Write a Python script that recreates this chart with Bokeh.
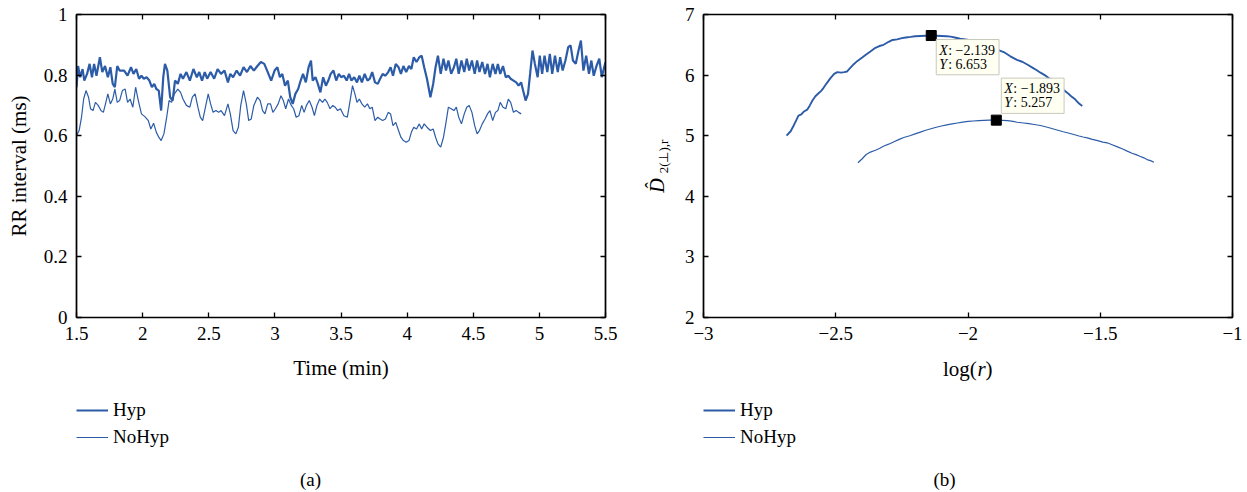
import math
from bokeh.plotting import figure
from bokeh.models import Range1d, LinearAxis, FixedTicker, Legend, LegendItem, Label
from bokeh.layouts import row, column
from bokeh.embed import file_html
from bokeh.resources import INLINE

# ---------------- data: panel (a) ----------------
time_hyp = [
    1.500, 1.512, 1.528, 1.546, 1.559, 1.580, 1.599, 1.617, 1.633, 1.651,
    1.677, 1.695, 1.716, 1.737, 1.756, 1.774, 1.790, 1.808, 1.826, 1.860,
    1.886, 1.912, 1.931, 1.952, 1.973, 1.991, 2.009, 2.030, 2.051, 2.070,
    2.088, 2.104, 2.122, 2.140, 2.156, 2.169, 2.187, 2.208, 2.227, 2.245,
    2.266, 2.287, 2.305, 2.331, 2.357, 2.384, 2.410, 2.428, 2.449, 2.470,
    2.488, 2.514, 2.541, 2.567, 2.593, 2.619, 2.645, 2.663, 2.684, 2.711,
    2.737, 2.763, 2.789, 2.815, 2.841, 2.868, 2.894, 2.920, 2.946, 2.972,
    2.998, 3.019, 3.038, 3.056, 3.077, 3.098, 3.116, 3.135, 3.155, 3.176,
    3.195, 3.213, 3.234, 3.255, 3.273, 3.286, 3.307, 3.325, 3.344, 3.365,
    3.386, 3.404, 3.422, 3.443, 3.464, 3.483, 3.501, 3.522, 3.543, 3.561,
    3.579, 3.600, 3.621, 3.639, 3.658, 3.679, 3.700, 3.718, 3.736, 3.757,
    3.778, 3.796, 3.815, 3.836, 3.857, 3.875, 3.893, 3.914, 3.935, 3.953,
    3.972, 3.993, 4.014, 4.032, 4.050, 4.071, 4.092, 4.110, 4.129, 4.150,
    4.176, 4.197, 4.215, 4.233, 4.254, 4.275, 4.294, 4.312, 4.333, 4.354,
    4.372, 4.390, 4.411, 4.432, 4.451, 4.469, 4.490, 4.511, 4.529, 4.547,
    4.568, 4.589, 4.608, 4.626, 4.647, 4.668, 4.686, 4.704, 4.725, 4.746,
    4.765, 4.783, 4.804, 4.825, 4.843, 4.862, 4.877, 4.896, 4.914, 4.930,
    4.948, 4.966, 4.987, 5.003, 5.021, 5.039, 5.060, 5.079, 5.097, 5.118,
    5.139, 5.157, 5.176, 5.197, 5.218, 5.236, 5.254, 5.275, 5.296, 5.314,
    5.333, 5.354, 5.375, 5.393, 5.411, 5.432, 5.453, 5.472, 5.490, 5.500,
]
rr_hyp = [
    0.760, 0.830, 0.793, 0.820, 0.782, 0.804, 0.837, 0.793, 0.837, 0.798,
    0.859, 0.810, 0.830, 0.793, 0.826, 0.771, 0.760, 0.830, 0.815, 0.815,
    0.798, 0.826, 0.804, 0.820, 0.788, 0.798, 0.788, 0.793, 0.782, 0.760,
    0.771, 0.754, 0.749, 0.683, 0.793, 0.837, 0.815, 0.727, 0.716, 0.782,
    0.771, 0.804, 0.788, 0.810, 0.782, 0.820, 0.793, 0.810, 0.782, 0.810,
    0.788, 0.810, 0.788, 0.820, 0.804, 0.815, 0.776, 0.804, 0.793, 0.815,
    0.798, 0.826, 0.810, 0.830, 0.815, 0.830, 0.843, 0.837, 0.810, 0.782,
    0.815, 0.826, 0.793, 0.804, 0.765, 0.782, 0.727, 0.705, 0.738, 0.754,
    0.782, 0.804, 0.776, 0.826, 0.848, 0.782, 0.793, 0.771, 0.743, 0.793,
    0.765, 0.782, 0.804, 0.815, 0.782, 0.804, 0.793, 0.798, 0.782, 0.804,
    0.782, 0.793, 0.776, 0.798, 0.776, 0.804, 0.782, 0.788, 0.810, 0.776,
    0.771, 0.788, 0.804, 0.798, 0.810, 0.826, 0.798, 0.837, 0.826, 0.804,
    0.830, 0.810, 0.830, 0.820, 0.859, 0.843, 0.859, 0.864, 0.826, 0.788,
    0.727, 0.771, 0.826, 0.864, 0.804, 0.854, 0.815, 0.848, 0.804, 0.826,
    0.854, 0.804, 0.848, 0.810, 0.854, 0.815, 0.848, 0.804, 0.848, 0.810,
    0.843, 0.804, 0.837, 0.793, 0.837, 0.804, 0.837, 0.804, 0.830, 0.793,
    0.798, 0.788, 0.782, 0.776, 0.765, 0.776, 0.749, 0.716, 0.738, 0.804,
    0.881, 0.837, 0.793, 0.864, 0.804, 0.864, 0.810, 0.870, 0.804, 0.864,
    0.810, 0.859, 0.815, 0.848, 0.892, 0.898, 0.848, 0.837, 0.881, 0.914,
    0.815, 0.864, 0.804, 0.848, 0.798, 0.830, 0.854, 0.793, 0.826, 0.843,
]
time_nohyp = [
    1.500, 1.520, 1.538, 1.554, 1.572, 1.591, 1.606, 1.625, 1.643, 1.664,
    1.685, 1.703, 1.722, 1.737, 1.756, 1.774, 1.790, 1.808, 1.826, 1.847,
    1.868, 1.886, 1.905, 1.926, 1.947, 1.965, 1.991, 2.017, 2.043, 2.062,
    2.083, 2.104, 2.122, 2.140, 2.161, 2.182, 2.200, 2.219, 2.240, 2.266,
    2.287, 2.305, 2.331, 2.357, 2.376, 2.397, 2.418, 2.436, 2.454, 2.475,
    2.496, 2.514, 2.533, 2.554, 2.575, 2.593, 2.619, 2.645, 2.663, 2.684,
    2.705, 2.724, 2.742, 2.763, 2.784, 2.802, 2.821, 2.841, 2.868, 2.889,
    2.907, 2.925, 2.946, 2.967, 2.985, 3.004, 3.025, 3.046, 3.064, 3.082,
    3.103, 3.124, 3.142, 3.161, 3.182, 3.203, 3.221, 3.239, 3.260, 3.281,
    3.299, 3.318, 3.339, 3.360, 3.378, 3.396, 3.417, 3.438, 3.456, 3.475,
    3.496, 3.522, 3.548, 3.569, 3.587, 3.605, 3.621, 3.639, 3.658, 3.679,
    3.700, 3.718, 3.736, 3.757, 3.778, 3.796, 3.815, 3.836, 3.857, 3.875,
    3.893, 3.914, 3.935, 3.953, 3.972, 3.993, 4.014, 4.032, 4.050, 4.071,
    4.092, 4.110, 4.129, 4.150, 4.176, 4.197, 4.215, 4.233, 4.254, 4.275,
    4.294, 4.312, 4.333, 4.354, 4.372, 4.390, 4.411, 4.432, 4.451, 4.469,
    4.490, 4.511, 4.529, 4.547, 4.568, 4.589, 4.608, 4.626, 4.647, 4.668,
    4.686, 4.704, 4.725, 4.746, 4.765, 4.783, 4.804, 4.825, 4.843, 4.862,
]
rr_nohyp = [
    0.600, 0.617, 0.661, 0.721, 0.749, 0.727, 0.689, 0.683, 0.710, 0.700,
    0.683, 0.677, 0.710, 0.738, 0.705, 0.721, 0.754, 0.710, 0.716, 0.749,
    0.754, 0.710, 0.721, 0.694, 0.760, 0.721, 0.672, 0.663, 0.650, 0.622,
    0.641, 0.611, 0.595, 0.584, 0.606, 0.661, 0.716, 0.710, 0.738, 0.754,
    0.743, 0.721, 0.700, 0.694, 0.727, 0.738, 0.694, 0.661, 0.650, 0.694,
    0.738, 0.705, 0.677, 0.683, 0.677, 0.683, 0.666, 0.705, 0.672, 0.617,
    0.606, 0.628, 0.700, 0.749, 0.705, 0.650, 0.655, 0.700, 0.727, 0.716,
    0.683, 0.672, 0.705, 0.705, 0.677, 0.689, 0.705, 0.732, 0.716, 0.689,
    0.721, 0.700, 0.689, 0.661, 0.666, 0.700, 0.677, 0.700, 0.716, 0.694,
    0.666, 0.700, 0.721, 0.710, 0.721, 0.710, 0.689, 0.700, 0.694, 0.683,
    0.689, 0.666, 0.661, 0.716, 0.765, 0.738, 0.710, 0.721, 0.705, 0.694,
    0.705, 0.689, 0.694, 0.650, 0.661, 0.655, 0.650, 0.655, 0.677, 0.672,
    0.633, 0.644, 0.617, 0.595, 0.584, 0.578, 0.584, 0.611, 0.628, 0.622,
    0.639, 0.622, 0.639, 0.628, 0.617, 0.622, 0.595, 0.573, 0.562, 0.595,
    0.644, 0.694, 0.689, 0.683, 0.694, 0.661, 0.639, 0.672, 0.694, 0.700,
    0.677, 0.633, 0.606, 0.617, 0.639, 0.655, 0.672, 0.683, 0.650, 0.677,
    0.683, 0.710, 0.694, 0.689, 0.721, 0.710, 0.677, 0.683, 0.677, 0.672,
]

# ---------------- data: panel (b) ----------------
logr_hyp = [
    -2.686, -2.678, -2.671, -2.660, -2.650, -2.641, -2.630, -2.620, -2.608, -2.598,
    -2.588, -2.577, -2.565, -2.555, -2.546, -2.535, -2.520, -2.506, -2.494, -2.480,
    -2.468, -2.457, -2.445, -2.432, -2.419, -2.400, -2.385, -2.369, -2.350, -2.335,
    -2.319, -2.300, -2.285, -2.268, -2.250, -2.235, -2.217, -2.200, -2.180, -2.160,
    -2.139, -2.120, -2.100, -2.080, -2.066, -2.050, -2.030, -2.003, -1.980, -1.960,
    -1.940, -1.915, -1.890, -1.865, -1.840, -1.815, -1.795, -1.776, -1.755, -1.740,
    -1.726, -1.710, -1.695, -1.676, -1.660, -1.645, -1.625, -1.610, -1.595, -1.580,
    -1.568,
]
d2_hyp = [
    5.00, 5.04, 5.07, 5.16, 5.25, 5.33, 5.35, 5.40, 5.43, 5.50,
    5.58, 5.65, 5.70, 5.74, 5.79, 5.86, 5.95, 6.02, 6.05, 6.04,
    6.05, 6.06, 6.12, 6.18, 6.23, 6.29, 6.34, 6.39, 6.45, 6.48,
    6.50, 6.55, 6.58, 6.59, 6.61, 6.62, 6.63, 6.64, 6.645, 6.65,
    6.653, 6.65, 6.645, 6.64, 6.635, 6.62, 6.60, 6.585, 6.56, 6.52,
    6.48, 6.45, 6.42, 6.38, 6.31, 6.25, 6.22, 6.175, 6.12, 6.08,
    6.04, 6.00, 5.95, 5.90, 5.84, 5.78, 5.71, 5.65, 5.60, 5.53,
    5.49,
]
logr_nohyp = [
    -2.416, -2.400, -2.385, -2.369, -2.350, -2.335, -2.318, -2.300, -2.280, -2.260,
    -2.243, -2.220, -2.200, -2.180, -2.160, -2.140, -2.120, -2.100, -2.080, -2.060,
    -2.040, -2.020, -2.000, -1.980, -1.960, -1.940, -1.920, -1.893, -1.870, -1.850,
    -1.830, -1.814, -1.790, -1.770, -1.750, -1.726, -1.700, -1.680, -1.660, -1.640,
    -1.625, -1.600, -1.580, -1.565, -1.549, -1.530, -1.510, -1.490, -1.474, -1.455,
    -1.435, -1.415, -1.398, -1.380, -1.365, -1.350, -1.335, -1.320, -1.310, -1.297,
]
d2_nohyp = [
    4.553, 4.62, 4.69, 4.73, 4.76, 4.79, 4.83, 4.86, 4.90, 4.94,
    4.97, 5.00, 5.03, 5.06, 5.09, 5.115, 5.14, 5.16, 5.18, 5.195,
    5.21, 5.225, 5.235, 5.243, 5.25, 5.253, 5.256, 5.257, 5.254, 5.248,
    5.236, 5.222, 5.21, 5.198, 5.185, 5.168, 5.14, 5.115, 5.09, 5.065,
    5.048, 5.02, 4.995, 4.978, 4.965, 4.94, 4.918, 4.895, 4.883, 4.85,
    4.815, 4.78, 4.745, 4.71, 4.688, 4.66, 4.635, 4.60, 4.588, 4.563,
]
tip_x = [-2.139, -1.893]
tip_y = [6.653, 5.257]

series_names = ["Hyp", "NoHyp"]
captions = ["(a)", "(b)"]

xticks_a = [1.5, 2, 2.5, 3, 3.5, 4, 4.5, 5, 5.5]
xlabels_a = ["1.5", "2", "2.5", "3", "3.5", "4", "4.5", "5", "5.5"]
yticks_a = [0, 0.2, 0.4, 0.6, 0.8, 1]
ylabels_a = ["0", "0.2", "0.4", "0.6", "0.8", "1"]
xticks_b = [-3, -2.5, -2, -1.5, -1]
xlabels_b = ["\u22123", "\u22122.5", "\u22122", "\u22121.5", "\u22121"]
yticks_b = [2, 3, 4, 5, 6, 7]
ylabels_b = ["2", "3", "4", "5", "6", "7"]

# ---------------- styling ----------------
BLUE = "#2C5CA8"
FONT = "Liberation Serif"
TICK_FS = "19px"
LABEL_FS = "21px"
TOP_H = 350
BOT_H = 142


def frame_axes(p, xt, xl, yt, yl):
    p.grid.visible = False
    p.outline_line_color = "black"
    p.outline_line_width = 1.2
    bx = p.below[0]
    ly = p.left[0]
    bx.ticker = FixedTicker(ticks=xt)
    bx.major_label_overrides = {t: l for t, l in zip(xt, xl)}
    ly.ticker = FixedTicker(ticks=yt)
    ly.major_label_overrides = {t: l for t, l in zip(yt, yl)}
    top = LinearAxis(ticker=FixedTicker(ticks=[], minor_ticks=xt))
    rgt = LinearAxis(ticker=FixedTicker(ticks=[], minor_ticks=yt))
    p.add_layout(top, "above")
    p.add_layout(rgt, "right")
    for ax in (bx, ly, top, rgt):
        ax.major_tick_in = 5
        ax.major_tick_out = 0
        ax.axis_line_color = "black"
        ax.axis_line_width = 1.6
        ax.major_tick_line_color = "black"
        ax.major_tick_line_width = 1.3
        ax.major_label_text_font = FONT
        ax.major_label_text_font_size = TICK_FS
        ax.major_label_text_color = "black"
        ax.major_label_standoff = 9
        ax.axis_label_text_font = FONT
        ax.axis_label_text_font_size = LABEL_FS
        ax.axis_label_text_font_style = "normal"
        ax.axis_label_text_color = "black"
    for ax in (bx, ly):
        ax.minor_tick_line_color = None
    for ax in (top, rgt):
        ax.minor_tick_in = 5
        ax.minor_tick_out = 0
        ax.minor_tick_line_color = "black"
        ax.minor_tick_line_width = 1.3
        ax.major_label_standoff = 0


def blank_fig(w, h):
    f = figure(width=w, height=h, x_range=Range1d(0, 1), y_range=Range1d(0, 1),
               x_axis_type=None, y_axis_type=None, output_backend="svg",
               toolbar_location=None, min_border=0)
    f.outline_line_color = None
    return f


def bottom_block(f, xs, ys, legend_x, cap_text, cap_x, lw_hyp, lw_nohyp):
    # the series themselves, lying outside this panel's visible range: only legend glyphs show
    r1 = f.line(xs[0], ys[0], line_color=BLUE, line_width=lw_hyp)
    r2 = f.line(xs[1], ys[1], line_color=BLUE, line_width=lw_nohyp)
    leg = Legend(
        items=[LegendItem(label=series_names[0], renderers=[r1]),
               LegendItem(label=series_names[1], renderers=[r2])],
        location=(legend_x, 44), orientation="vertical",
        padding=0, margin=0, spacing=5,
        glyph_width=32, glyph_height=20, label_height=20, label_standoff=5,
        label_text_font=FONT, label_text_font_size=TICK_FS, label_text_color="black",
        border_line_alpha=0, background_fill_alpha=0,
    )
    f.add_layout(leg)
    f.add_layout(Label(x=cap_x, y=13, x_units="screen", y_units="screen", text=cap_text,
                       text_align="center", text_baseline="middle",
                       text_font=FONT, text_font_size=TICK_FS, text_color="black"))


# ---------------- panel (a) ----------------
pa = figure(width=623, height=TOP_H, x_range=Range1d(1.5, 5.5), y_range=Range1d(0, 1),
            output_backend="svg", toolbar_location=None,
            min_border_left=76, min_border_right=18, min_border_top=14, min_border_bottom=33)
pa.line(time_hyp, rr_hyp, line_color=BLUE, line_width=2.2)
pa.line(time_nohyp, rr_nohyp, line_color=BLUE, line_width=1.2)
frame_axes(pa, xticks_a, xlabels_a, yticks_a, ylabels_a)
pa.left[0].axis_label = "RR interval (ms)"
pa.left[0].axis_label_standoff = 10

# ---------------- y label of panel (b) ----------------
# (this strip's frame is aligned with the neighbouring plot frames: its bottom sits at the x axis)
pyl = blank_fig(56, TOP_H)
pyl.add_layout(Label(x=33, y=132, x_units="screen", y_units="screen", text="D\u0302",
                     angle=math.pi / 2, text_align="center", text_baseline="middle",
                     text_font=FONT, text_font_size="20px", text_font_style="italic",
                     text_color="black"))
pyl.add_layout(Label(x=39.5, y=161, x_units="screen", y_units="screen", text="2(\u22a5),r",
                     angle=math.pi / 2, text_align="center", text_baseline="middle",
                     text_font=FONT, text_font_size="13px", text_color="black"))

# ---------------- panel (b) ----------------
pb = figure(width=568, height=TOP_H, x_range=Range1d(-3, -1), y_range=Range1d(2, 7),
            output_backend="svg", toolbar_location=None,
            min_border_left=24, min_border_right=15, min_border_top=14, min_border_bottom=33)
pb.line(logr_hyp, d2_hyp, line_color=BLUE, line_width=1.9)
pb.line(logr_nohyp, d2_nohyp, line_color=BLUE, line_width=1.2)
pb.scatter(tip_x, tip_y, marker="square", size=10, color="black")
frame_axes(pb, xticks_b, xlabels_b, yticks_b, ylabels_b)


def fmt(v):
    return f"{v:.3f}".replace("-", "\u2212")


# box offsets from the marked point (screen px): box corner, then the italic X / Y labels
box_offsets = [-4, 42]
for i in range(2):
    yo = box_offsets[i]
    pb.add_layout(Label(x=tip_x[i], y=tip_y[i], x_offset=5, y_offset=yo,
                        text=": " + fmt(tip_x[i]) + "\n: " + fmt(tip_y[i]),
                        text_align="left", text_baseline="top", text_line_height=0.95,
                        text_font=FONT, text_font_size="14px", text_color="black",
                        padding=dict(left=12, right=4, top=3, bottom=3),
                        background_fill_color="#FFFFF2", border_line_color="#C8C8BC",
                        border_line_width=1))
    pb.add_layout(Label(x=tip_x[i], y=tip_y[i], x_offset=8, y_offset=yo - 3, text="X\nY",
                        text_align="left", text_baseline="top", text_line_height=0.95,
                        text_font=FONT, text_font_size="14px", text_font_style="italic",
                        text_color="black"))

# ---------------- bottom blocks: axis titles, legends, captions ----------------
la = blank_fig(623, BOT_H)
la.add_layout(Label(x=340.5, y=125, x_units="screen", y_units="screen", text="Time (min)",
                    text_align="center", text_baseline="middle", text_font=FONT,
                    text_font_size=LABEL_FS, text_color="black"))
bottom_block(la, [time_hyp, time_nohyp], [rr_hyp, rr_nohyp], 76, captions[0], 310, 2.2, 1.2)

lb = blank_fig(624, BOT_H)
for txt, dx, style in [("log(", 319.5, "normal"), ("r", 354.0, "italic"), (")", 362.0, "normal")]:
    lb.add_layout(Label(x=dx, y=124, x_units="screen", y_units="screen", text=txt,
                        text_align="left", text_baseline="middle", text_font=FONT,
                        text_font_size=LABEL_FS, text_font_style=style, text_color="black"))
bottom_block(lb, [logr_hyp, logr_nohyp], [d2_hyp, d2_nohyp], 80, captions[1], 321, 2.2, 1.2)

layout = column(row(pa, pyl, pb), row(la, lb))
open("out.html", "w").write(file_html(layout, INLINE))
